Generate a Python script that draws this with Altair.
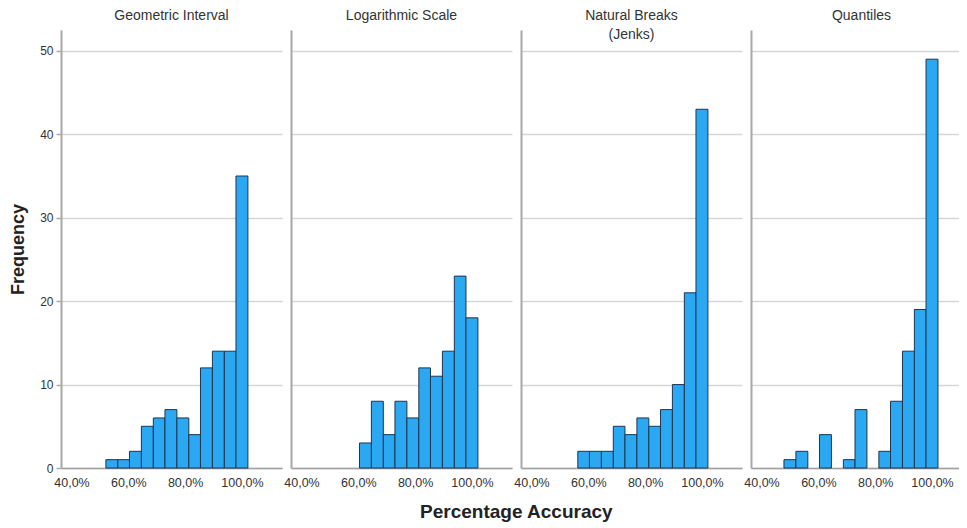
import altair as alt
import pandas as pd

# Shared histogram bins (percentage accuracy)
bin_lo = [47.9, 52.1, 56.3, 60.4, 64.6, 68.8, 72.9, 77.1, 81.3, 85.4, 89.6, 93.8, 97.9]
bin_hi = [52.1, 56.3, 60.4, 64.6, 68.8, 72.9, 77.1, 81.3, 85.4, 89.6, 93.8, 97.9, 102.1]

panel_titles = [["Geometric Interval"], ["Logarithmic Scale"], ["Natural Breaks", "(Jenks)"], ["Quantiles"]]
geometric = [0, 1, 1, 2, 5, 6, 7, 6, 4, 12, 14, 14, 35]
logarithmic = [0, 0, 0, 3, 8, 4, 8, 6, 12, 11, 14, 23, 18]
jenks = [0, 0, 2, 2, 2, 5, 4, 6, 5, 7, 10, 21, 43]
quantiles = [1, 2, 0, 4, 0, 1, 7, 0, 2, 8, 14, 19, 49]

x_ticks = [40, 60, 80, 100]
y_ticks = [0, 10, 20, 30, 40, 50]

series = [geometric, logarithmic, jenks, quantiles]
widths = [221, 221, 221, 208]
x_max = [114.1, 114.1, 114.1, 109.5]
HEIGHT = 438

FONT = "Liberation Sans"
label_expr = "replace(format(datum.value, '.1f'), '.', ',') + '%'"

charts = []
for i, (title_lines, counts) in enumerate(zip(panel_titles, series)):
    df = pd.DataFrame({"lo": bin_lo, "hi": bin_hi, "count": counts})
    df = df[df["count"] > 0]
    first = i == 0
    yaxis = alt.Axis(
        values=y_ticks,
        title="Frequency" if first else None,
        labels=first,
        ticks=first,
        tickSize=5,
        tickColor="#aaaaaa",
        tickWidth=1.5,
        labelFontSize=12,
        labelColor="#333333",
        labelPadding=3,
        titleFontSize=18,
        titleFontWeight="bold",
        titleColor="#222222",
        titlePadding=12,
        domainColor="#a8a8a8",
        domainWidth=2,
        gridColor="#d6d6d6",
        gridWidth=1.5,
    )
    xaxis = alt.Axis(
        values=x_ticks,
        labelExpr=label_expr,
        title=None,
        ticks=False,
        labelPadding=8,
        labelFontSize=12.5,
        labelColor="#333333",
        domainColor="#a0a0a0",
        domainWidth=1.5,
        grid=False,
    )
    bars = alt.Chart(df).mark_bar(
        fill="#2aa8f2", stroke="#1e3550", strokeWidth=1, opacity=1
    ).encode(
        x=alt.X("lo:Q", scale=alt.Scale(domain=[36.3, x_max[i]], nice=False, zero=False), axis=xaxis),
        x2="hi:Q",
        y=alt.Y("count:Q", scale=alt.Scale(domain=[0, 52.5], nice=False), axis=yaxis),
        y2=alt.datum(0),
    )
    layers = [bars]
    for k, line in enumerate(title_lines):
        tdf = pd.DataFrame({"t": [line]})
        layers.append(
            alt.Chart(tdf).mark_text(
                font=FONT, fontSize=14, color="#333333", baseline="top", align="center",
            ).encode(
                text="t:N",
                x=alt.value(221 / 2),
                y=alt.value(-21 + 19 * k),
            )
        )
    charts.append(alt.layer(*layers).properties(width=widths[i], height=HEIGHT))

chart = alt.hconcat(*charts, spacing=9, bounds="flush").properties(
    title=alt.TitleParams(
        text="Percentage Accuracy", orient="bottom", anchor="middle",
        fontSize=19, fontWeight="bold", color="#222222", font=FONT, offset=14, dx=32,
    ),
    autosize=alt.AutoSizeParams(type="none"),
    padding={"left": 53, "top": 22, "right": 898, "bottom": 490},
).configure(font=FONT).configure_view(stroke=None).configure_axis(
    labelFont=FONT, titleFont=FONT
)

chart.save("out.html", embed_options={"renderer": "svg", "actions": False})
